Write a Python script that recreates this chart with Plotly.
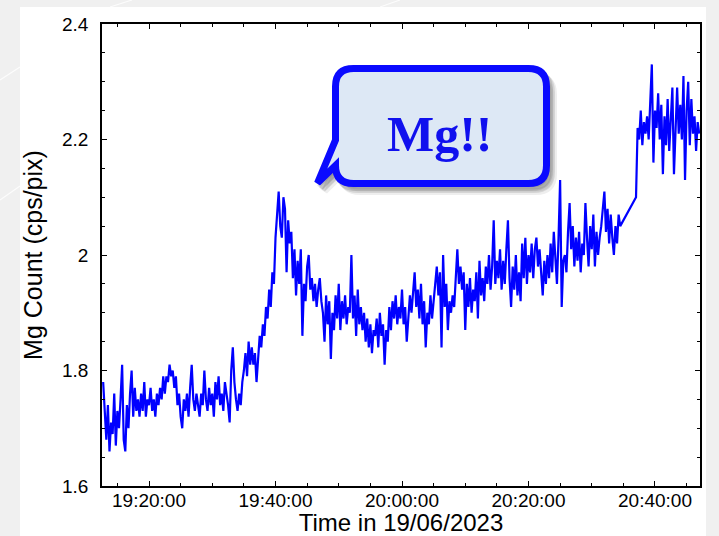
import pandas as pd
import plotly.graph_objects as go

# Mg count rate, sampled every 15 s (two acquisition runs with a short pause between them)
run1_start = "2023-06-19 19:12:45"
run2_start = "2023-06-19 20:37:00"
sample_step = "15s"

mg_run1 = [
    1.78, 1.72, 1.68, 1.74, 1.66, 1.71, 1.69, 1.76,
    1.67, 1.73, 1.70, 1.75, 1.81, 1.68, 1.66, 1.74,
    1.70, 1.76, 1.80, 1.72, 1.77, 1.73, 1.75, 1.72,
    1.76, 1.73, 1.78, 1.72, 1.75, 1.74, 1.77, 1.73,
    1.75, 1.72, 1.76, 1.74, 1.77, 1.75, 1.79, 1.76,
    1.79, 1.78, 1.81, 1.79, 1.80, 1.77, 1.79, 1.74,
    1.76, 1.72, 1.70, 1.75, 1.73, 1.76, 1.72, 1.77,
    1.81, 1.75, 1.73, 1.76, 1.74, 1.72,
    1.76, 1.74, 1.80, 1.75, 1.73, 1.77, 1.74, 1.76,
    1.72, 1.78, 1.75, 1.79, 1.74, 1.76, 1.73, 1.78,
    1.76, 1.74, 1.71, 1.80, 1.84, 1.78, 1.75, 1.73,
    1.76, 1.74, 1.78, 1.80, 1.83, 1.79, 1.85, 1.81,
    1.84, 1.81, 1.83, 1.78, 1.82, 1.86, 1.84, 1.88,
    1.86, 1.91, 1.89, 1.94, 1.91, 1.97, 1.95, 2.03,
    2.07, 2.11, 2.05, 2.03, 2.10, 2.08, 1.97, 2.06,
    2.02, 2.04, 1.96, 2.01, 1.93, 1.99, 1.95,
    2.01, 1.86, 1.95, 1.92, 1.98, 2.00, 1.94, 1.96,
    1.92, 1.95, 1.91, 1.94, 1.96, 1.92, 1.90, 1.85,
    1.93, 1.88, 1.92, 1.82, 1.90, 1.87, 1.93, 1.89,
    1.95, 1.87, 1.92, 1.89, 1.93, 1.88, 1.91, 1.90,
    2.00, 1.89, 1.93, 1.86, 1.94, 1.88, 1.91, 1.87,
    1.90, 1.85, 1.89, 1.84, 1.88, 1.83, 1.87, 1.86,
    1.89, 1.84, 1.90, 1.86, 1.88, 1.81, 1.87, 1.85,
    1.91, 1.87, 1.92, 1.89, 1.93, 1.88, 1.91,
    1.89, 1.94, 1.88, 1.91, 1.85, 1.90, 1.93, 1.90,
    1.93, 1.97, 1.91, 1.94, 1.89, 1.95, 1.88, 1.92,
    1.84, 1.90, 1.88, 1.93, 1.89, 1.92, 1.96, 1.98,
    1.93, 1.97, 1.84, 2.00, 1.91, 1.95, 1.87, 1.92,
    1.90, 1.93, 1.91, 1.96, 2.01, 1.95, 1.98, 1.94,
    1.97, 1.87, 1.95, 1.91, 1.96, 1.90, 1.94, 1.92,
    1.97, 1.89, 1.99, 1.93, 1.96, 1.92, 1.98, 1.95,
    2.00, 1.94, 1.98, 2.06, 1.95, 1.99, 1.96, 2.01,
    1.94, 1.99, 1.95, 2.01, 2.06, 1.96, 1.91, 1.98,
    1.94, 2.00, 1.93, 1.97, 1.92, 2.02, 1.96, 2.03,
    1.95, 2.00, 1.97, 2.02, 1.96, 2.01, 2.03, 1.98,
    2.01, 1.97, 1.93, 1.99, 1.95, 2.00, 1.96, 2.02,
    1.97, 2.04, 1.99, 1.95, 2.03, 2.13, 1.91, 1.99,
    2.00, 1.97, 2.04, 2.09, 2.01, 2.05, 1.98, 2.03,
    1.99, 2.04, 1.97, 2.02, 2.00, 2.09, 2.03, 1.98,
    2.05, 2.01, 2.07, 1.98, 2.04, 2.00, 2.03,
    2.05, 2.08, 2.11, 2.04, 2.08, 2.02, 2.07, 2.03,
    2.00, 2.05, 2.02, 2.07, 2.05,
]

mg_run2 = [
    2.10, 2.22,
    2.20, 2.25, 2.19, 2.23, 2.21, 2.24, 2.20, 2.27,
    2.33, 2.16, 2.25, 2.22, 2.28, 2.20, 2.26, 2.14,
    2.24, 2.19, 2.27, 2.18, 2.23, 2.29, 2.14, 2.22,
    2.29, 2.21, 2.26, 2.20, 2.31, 2.13, 2.25, 2.30,
    2.19, 2.27, 2.21, 2.24, 2.18, 2.23, 2.21,
]

callout_text = "Mg!!"
x_title = "Time in 19/06/2023"
y_title = "Mg Count (cps/pix)"

times = list(pd.date_range(run1_start, periods=len(mg_run1), freq=sample_step)) + \
        list(pd.date_range(run2_start, periods=len(mg_run2), freq=sample_step))
counts = mg_run1 + mg_run2

# ---- page geometry (pixels) ----
W, H = 719, 536
PL, PR, PT, PB = 102, 700, 24, 486


def px(x):
    return (x - PL) / (PR - PL)


def py(y):
    return (PB - y) / (PB - PT)


def bubble_path(dx=0.0, dy=0.0):
    l, r, t, b, rad = 335.5 + dx, 546.5 + dx, 68.5 + dy, 183.5 + dy, 18
    pts = [
        ("M", (l + rad, t)), ("L", (r - rad, t)), ("Q", (r, t), (r, t + rad)),
        ("L", (r, b - rad)), ("Q", (r, b), (r - rad, b)),
        ("L", (l + rad, b)), ("Q", (l, b), (l, b - rad)),
        ("L", (317.5 + dx, 183.0 + dy)), ("L", (l, 140 + dy)),
        ("L", (l, t + rad)), ("Q", (l, t), (l + rad, t)),
    ]
    out = []
    for cmd, *coords in pts:
        out.append(cmd + " ".join(f"{px(x):.5f},{py(y):.5f}" for x, y in coords))
    return " ".join(out) + " Z"


fig = go.Figure()
fig.add_trace(go.Scatter(
    x=times, y=counts, mode="lines",
    line=dict(color="#0000ff", width=2.2),
    hoverinfo="skip",
))

shapes = []
# faint streaks on the grey backdrop
for (x0, y0, x1, y1) in [(0, 80, 20, 67), (0, 200, 20, 186), (110, 7, 132, 0), (380, 7, 400, 0)]:
    shapes.append(dict(type="line", xref="paper", yref="paper", layer="below",
                       x0=px(x0), y0=py(y0), x1=px(x1), y1=py(y1),
                       line=dict(color="rgba(255,255,255,0.8)", width=1.2)))
# white slide panel
shapes.append(dict(type="rect", xref="paper", yref="paper", layer="below",
                   x0=px(20), x1=px(706), y0=py(540), y1=py(7),
                   fillcolor="white", line=dict(width=0)))
# callout shadow
for k, op in [(3, 0.18), (5, 0.16), (7, 0.10)]:
    shapes.append(dict(type="path", xref="paper", yref="paper", path=bubble_path(k, k + 1),
                       fillcolor=f"rgba(90,90,90,{op})", line=dict(color=f"rgba(90,90,90,{op})", width=7)))
# callout bubble
shapes.append(dict(type="path", xref="paper", yref="paper", path=bubble_path(),
                   fillcolor="#dde8f5", line=dict(color="#0a0aff", width=7)))

fig.update_layout(
    width=W, height=H,
    margin=dict(l=PL, r=W - PR, t=PT, b=H - PB, pad=0),
    paper_bgcolor="#f0f0f0", plot_bgcolor="white",
    showlegend=False,
    font=dict(family="Liberation Sans, Arial, sans-serif", color="black"),
    shapes=shapes,
    annotations=[dict(
        xref="paper", yref="paper", x=px(440), y=py(134), xanchor="center", yanchor="middle",
        text=f"<b>{callout_text}</b>", showarrow=False,
        font=dict(family="Liberation Serif, Times New Roman, serif", size=50, color="#1010ee"),
    )],
)

axis_common = dict(
    showline=True, linecolor="black", linewidth=1.5, mirror="ticks",
    ticks="inside", ticklen=5, tickwidth=1.2, tickcolor="black",
    showgrid=False, zeroline=False, automargin=False,
    tickfont=dict(size=19, color="black"),
)

fig.update_xaxes(
    **axis_common,
    type="date",
    range=["2023-06-19 19:12:34", "2023-06-19 20:47:07"],
    tick0="2023-06-19 19:20:00", dtick=20 * 60 * 1000,
    tickformat="%H:%M:%S",
    ticklabelstandoff=-4,
    minor=dict(ticks="inside", ticklen=3, tickcolor="black", dtick=5 * 60 * 1000),
    title=dict(text=x_title, font=dict(size=24), standoff=6),
)
fig.update_yaxes(
    **axis_common,
    range=[1.6, 2.4], dtick=0.2,
    minor=dict(ticks="inside", ticklen=3, tickcolor="black", dtick=0.05),
    ticklabelstandoff=8,
    title=dict(text=y_title, font=dict(size=25), standoff=12),
)

fig.write_html("out.html")
